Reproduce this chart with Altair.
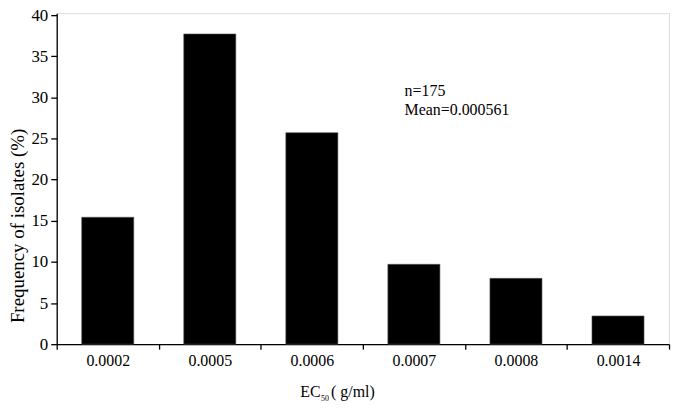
import altair as alt
import pandas as pd

ec50 = ["0.0002", "0.0005", "0.0006", "0.0007", "0.0008", "0.0014"]
freq = [15.43, 37.71, 25.71, 9.71, 8.0, 3.43]
y_ticks = [0, 5, 10, 15, 20, 25, 30, 35, 40]
annot = ["n=175", "Mean=0.000561"]

FONT = "Liberation Serif"
W, H = 616, 333

df = pd.DataFrame({"ec50": ec50, "freq": freq})

bars = alt.Chart(df).mark_bar(
    width=alt.RelativeBandSize(0.51), color="black", stroke="#555", strokeWidth=0.6
).encode(
    x=alt.X("ec50:N", sort=None,
            scale=alt.Scale(paddingInner=0, paddingOuter=0),
            axis=alt.Axis(title=None, labelAngle=0, tickBand="extent", tickSize=5,
                          labelPadding=3, labelFont=FONT, labelFontSize=16,
                          labelColor="black", domainColor="black", tickColor="black",
                          domainWidth=1.3, tickWidth=1.3)),
    y=alt.Y("freq:Q", scale=alt.Scale(domain=[0, 40.24], nice=False),
            axis=alt.Axis(title=None, values=y_ticks, tickSize=6, labelPadding=3,
                          labelFont=FONT, labelFontSize=17, labelColor="black",
                          domainColor="black", tickColor="black",
                          domainWidth=1.3, tickWidth=1.3, grid=False)),
)


def txt(t, x, y, size=16, **kw):
    return alt.Chart(pd.DataFrame({"t": [t]})).mark_text(
        font=FONT, fontSize=size, color="black", **kw
    ).encode(text="t:N", x=alt.value(x), y=alt.value(y))


ann1 = txt(annot[0], 350, 83, align="left", baseline="alphabetic")
ann2 = txt(annot[1], 350, 102, align="left", baseline="alphabetic")

xt1 = txt("EC", 245, 386, align="left", baseline="alphabetic")
xt2 = txt("50", 266, 390, size=8, align="left", baseline="alphabetic")
xt3 = txt("(  g/ml)", 276, 386, align="left", baseline="alphabetic")

yt = txt("Frequency of isolates (%)", -39, 214, size=19, align="center",
         baseline="middle", angle=270)

chart = alt.layer(bars, ann1, ann2, xt1, xt2, xt3, yt).properties(
    width=W, height=H,
    autosize=alt.AutoSizeParams(type="none"),
    padding={"left": 49, "top": 4, "right": 5, "bottom": 62},
).configure_view(stroke=None).configure(background="white")

chart.save("out.html", embed_options={"renderer": "svg", "actions": False})
